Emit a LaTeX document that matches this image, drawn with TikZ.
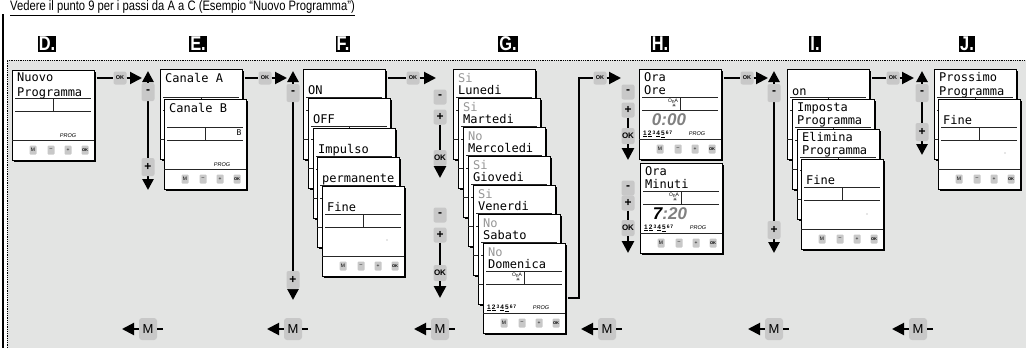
\documentclass[tikz,border=0pt]{standalone}
\usepackage{fontspec}
\usepackage{graphicx}
\setmainfont{Liberation Sans}
\newfontfamily\lcdfont{DejaVu Sans Mono}
\newfontfamily\symbolschrift{DejaVu Sans}
\usetikzlibrary{arrows.meta,shadows,calc}
\definecolor{grund}{RGB}{227,228,227}
\definecolor{tastgrau}{RGB}{200,200,200}
\definecolor{lcdgrau}{RGB}{150,150,150}

\newcommand\schmal[1]{\scalebox{0.82}[1]{#1}}
\newcommand\zeile[3]{\node[lcd] (#1) at (5,#2) {#3};}
\newcommand\hinten[3]{%
  \node[anzeige] (#1) at (#2) {};
  \begin{scope}[shift={(#1.north west)}]
    \draw[lcdlinie] (3,28) -- (79,28) (3,41) -- (79,41) (41,28) -- (41,41);
    \draw[lcdlinie] (0,70) -- (82,70);
    #3
  \end{scope}}
\newcommand\anzeige[3]{%
  \hinten{#1}{#2}{%
    \node[mini] (#1-m) at (21,80) {M};
    \node[mini] (#1-minus) at (39,80) {–};
    \node[mini] (#1-plus) at (56,80) {+};
    \node[mini,font=\bfseries\fontsize{4}{4}\selectfont] (#1-ok) at (73,80) {OK};
    #3}}
\newcommand\wochentage{\underline{1}\,\underline{2}\,\raisebox{1pt}{\fontsize{5}{5}\selectfont 3}\,\underline{4}\,\underline{5}\,\raisebox{1pt}{\fontsize{5}{5}\selectfont 6\,7}}
\newcommand\uhrsymbol[1]{%
  \node[ona] (#1-ona) at (34,32) {O\raisebox{-0.6pt}{n}A};
  \node[sonne] (#1-sonne) at (35,37) {☀};
  \node[wtage] (#1-wt) at (4,65) {\wochentage};
  \node[prog] (#1-prog) at (58,65) {PROG};}
\newcommand\hintertag[4]{\hinten{#1}{#2}{\zeile{#1-1}{13}{\textcolor{lcdgrau}{#3}}\zeile{#1-2}{25}{#4}}}

\begin{document}
\begin{tikzpicture}[x=1pt,y=-1pt]
\tikzset{anzeige/.style={rectangle,draw,fill=white,line width=0.8pt,minimum width=82pt,minimum height=90pt,inner sep=0pt,anchor=north west,drop shadow={shadow xshift=1.6pt,shadow yshift=-1.6pt,fill=black,opacity=1}}}
\tikzset{lcd/.style={anchor=base west,inner sep=0pt,font=\lcdfont\fontsize{12}{12}\selectfont}}
\tikzset{lcdlinie/.style={line width=0.8pt,black!85}}
\tikzset{mini/.style={fill=tastgrau,rounded corners=1pt,minimum width=7pt,minimum height=9pt,inner sep=0pt,font=\fontsize{5}{5}\selectfont}}
\tikzset{prog/.style={inner sep=0pt,font=\itshape\fontsize{5.5}{5.5}\selectfont}}
\tikzset{ona/.style={inner sep=0pt,font=\fontsize{5}{5}\selectfont}}
\tikzset{sonne/.style={inner sep=0pt,font=\symbolschrift\fontsize{5}{5}\selectfont}}
\tikzset{wtage/.style={anchor=west,inner sep=0pt,font=\bfseries\fontsize{6.5}{6.5}\selectfont}}
\tikzset{ziffern/.style={inner sep=0pt,text=black!50,font=\bfseries\itshape\fontsize{17}{17}\selectfont}}
\tikzset{taste/.style={fill=tastgrau,rounded corners=2pt,minimum width=13pt,minimum height=18pt,inner sep=0pt,font=\bfseries\fontsize{12}{12}\selectfont}}
\tikzset{oktaste/.style={taste,minimum height=13pt,font=\bfseries\fontsize{5.5}{5.5}\selectfont}}
\tikzset{okgross/.style={taste,minimum height=16pt,font=\bfseries\fontsize{8}{8}\selectfont}}
\tikzset{mtaste/.style={fill=tastgrau,rounded corners=3pt,minimum width=18pt,minimum height=22pt,inner sep=0pt,font=\fontsize{13}{13}\selectfont}}
\tikzset{buchstabe/.style={fill=black,text=white,inner sep=1pt,font=\bfseries\fontsize{20}{20}\selectfont}}
\tikzset{verbindung/.style={line width=2pt}}
\tikzset{pfeil/.style={line width=2pt,-{Triangle[length=12pt,width=12pt]}}}
\tikzset{spalte/.style={line width=2.6pt,{Triangle[length=11pt,width=11pt]}-{Triangle[length=11pt,width=11pt]}}}
\useasboundingbox (0,0) rectangle (1026,348);
\fill[grund] (7,60) rectangle (1026,348);
\draw[densely dotted,line width=0.8pt] (7,348) -- (7,60) -- (1026,60);
\draw[line width=1.6pt] (3,14) -- (3,348);
\node[anchor=west,inner sep=0pt,font=\fontsize{13.7}{14}\selectfont] (titel) at (10,8) {\schmal{\underline{Vedere il punto 9 per i passi da A a C (Esempio “Nuovo Programma”)}}};

\node [buchstabe] (bD) at (47,44) {\schmal{D.}};
\node [buchstabe] (bE) at (198,44) {\schmal{E.}};
\node [buchstabe] (bF) at (343,44) {\schmal{F.}};
\node [buchstabe] (bG) at (508,44) {\schmal{G.}};
\node [buchstabe] (bH) at (660,44) {\schmal{H.}};
\node [buchstabe] (bI) at (815,44) {\schmal{I.}};
\node [buchstabe] (bJ) at (967,44) {\schmal{J.}};

\anzeige{anzD}{12,70}{\zeile{anzD-1}{11}{Nuovo}\zeile{anzD-2}{26}{Programma}\node[prog] (anzD-prog) at (56,66) {PROG};}

\hinten{anzE1}{160,69}{\zeile{anzE1-1}{13}{Canale A}}
\anzeige{anzE2}{164,99}{\zeile{anzE2-1}{13}{Canale B}\node[inner sep=0pt,font=\lcdfont\fontsize{8}{8}\selectfont] (anzE2-b) at (75,34) {B};\node[prog] (anzE2-prog) at (58,66) {PROG};}

\hinten{anzF1}{303,69}{\zeile{anzF1-1}{25}{ON}}
\hinten{anzF2}{308,98}{\zeile{anzF2-1}{25}{OFF}}
\hinten{anzF3}{313,128}{\zeile{anzF3-1}{25}{Impulso}}
\hinten{anzF4}{317,157}{\zeile{anzF4-1}{25}{permanente}}
\anzeige{anzF5}{322,186}{\zeile{anzF5-1}{25}{Fine}\fill[lcdgrau] (65,54) circle (0.6);}

\hintertag{anzG1}{453,69}{Si}{Lunedi}
\hintertag{anzG2}{458,98}{Si}{Martedi}
\hintertag{anzG3}{463,127}{No}{Mercoledi}
\hintertag{anzG4}{468,156}{Si}{Giovedi}
\hintertag{anzG5}{473,185}{Si}{Venerdi}
\hintertag{anzG6}{478,214}{No}{Sabato}
\anzeige{anzG7}{483,243}{\zeile{anzG7-1}{13}{\textcolor{lcdgrau}{No}}\zeile{anzG7-2}{25}{Domenica}\uhrsymbol{anzG7}}

\anzeige{anzH1}{639,69}{\zeile{anzH1-1}{12}{Ora}\zeile{anzH1-2}{25}{Ore}\uhrsymbol{anzH1}\node[ziffern] (anzH1-z) at (30,51) {0:00};}
\anzeige{anzH2}{640,163}{\zeile{anzH2-1}{12}{Ora}\zeile{anzH2-2}{25}{Minuti}\uhrsymbol{anzH2}\node[ziffern] (anzH2-z) at (30,51) {\textcolor{black}{7}:20};}

\hinten{anzI1}{787,69}{\zeile{anzI1-1}{26}{on}}
\hinten{anzI2}{792,99}{\zeile{anzI2-1}{12}{Imposta}\zeile{anzI2-2}{25}{Programma}}
\hinten{anzI3}{797,129}{\zeile{anzI3-1}{12}{Elimina}\zeile{anzI3-2}{25}{Programma}}
\anzeige{anzI4}{801,159}{\zeile{anzI4-1}{25}{Fine}\fill[lcdgrau] (66,55) circle (0.6);}

\hinten{anzJ1}{934,69}{\zeile{anzJ1-1}{12}{Prossimo}\zeile{anzJ1-2}{26}{Programma}}
\anzeige{anzJ2}{938,99}{\zeile{anzJ2-1}{25}{Fine}\fill[lcdgrau] (67,54) circle (0.6);}

\node [oktaste] (okD) at (120,78) {OK};
\coordinate (spitzeD) at (142,78);
\draw[verbindung] ($(anzD.north east)+(2,8)$) -- (okD);
\draw[pfeil] (okD) -- (spitzeD);
\node [oktaste] (okE) at (265,78) {OK};
\coordinate (spitzeE) at (287,78);
\draw[verbindung] ($(anzE1.north east)+(2,9)$) -- (okE);
\draw[pfeil] (okE) -- (spitzeE);
\node [oktaste] (okF) at (413,78) {OK};
\coordinate (spitzeF) at (436,78);
\draw[verbindung] ($(anzF1.north east)+(2,9)$) -- (okF);
\draw[pfeil] (okF) -- (spitzeF);
\node [oktaste] (okG) at (600,78) {OK};
\coordinate (spitzeG) at (621,78);
\coordinate (knickG) at (579,78);
\draw[verbindung] ($(anzG7.north east)+(2,55)$) -| (knickG) -- (okG);
\draw[pfeil] (okG) -- (spitzeG);
\node [oktaste] (okH) at (747,78) {OK};
\coordinate (spitzeH) at (768,78);
\draw[verbindung] ($(anzH1.north east)+(2,9)$) -- (okH);
\draw[pfeil] (okH) -- (spitzeH);
\node [oktaste] (okI) at (893,78) {OK};
\coordinate (spitzeI) at (914,78);
\draw[verbindung] ($(anzI1.north east)+(2,9)$) -- (okI);
\draw[pfeil] (okI) -- (spitzeI);

\coordinate (obenE) at (148,71);
\coordinate (untenE) at (148,190);
\draw[spalte] (obenE) -- (untenE);
\node [taste] (minusE) at (148,92) {-};
\node [taste] (plusE) at (148,167) {+};
\coordinate (obenF) at (293,71);
\coordinate (untenF) at (293,300);
\draw[spalte] (obenF) -- (untenF);
\node [taste] (minusF) at (293,93) {-};
\node [taste] (plusF) at (293,280) {+};
\coordinate (obenI) at (774,71);
\coordinate (untenI) at (774,253);
\draw[spalte] (obenI) -- (untenI);
\node [taste] (minusI) at (774,93) {-};
\node [taste] (plusI) at (774,230) {+};
\coordinate (obenJ) at (922,71);
\coordinate (untenJ) at (922,155);
\draw[spalte] (obenJ) -- (untenJ);
\node [taste] (minusJ) at (922,93) {-};
\node [taste] (plusJ) at (922,132) {+};

\node [taste,minimum height=15pt] (minusG1) at (440,97) {-};
\node [taste,minimum height=15pt] (plusG1) at (440,117) {+};
\node [okgross] (okG1) at (440,158) {OK};
\coordinate (spitzeG1) at (440,178);
\draw[verbindung,line width=2.6pt] (plusG1) -- (okG1);
\draw[pfeil,line width=2.6pt] (okG1) -- (spitzeG1);
\node [taste,minimum height=15pt] (minusG2) at (440,215) {-};
\node [taste,minimum height=15pt] (plusG2) at (440,235) {+};
\node [okgross] (okG2) at (440,273) {OK};
\coordinate (spitzeG2) at (440,298);
\draw[verbindung,line width=2.6pt] (plusG2) -- (okG2);
\draw[pfeil,line width=2.6pt] (okG2) -- (spitzeG2);

\node [taste,minimum height=15pt] (minusH1) at (628,92) {-};
\node [taste,minimum height=15pt] (plusH1) at (628,110) {+};
\node [okgross] (okH1) at (628,136) {OK};
\coordinate (spitzeH1) at (628,160);
\draw[verbindung,line width=2.6pt] (plusH1) -- (okH1);
\draw[pfeil,line width=2.6pt] (okH1) -- (spitzeH1);
\node [taste,minimum height=15pt] (minusH2) at (628,188) {-};
\node [taste,minimum height=15pt] (plusH2) at (628,203) {+};
\node [okgross] (okH2) at (628,228) {OK};
\coordinate (spitzeH2) at (628,253);
\draw[verbindung,line width=2.6pt] (plusH2) -- (okH2);
\draw[pfeil,line width=2.6pt] (okH2) -- (spitzeH2);

\node [mtaste] (mE) at (148,329) {M};
\draw[pfeil] (mE) -- ++(-26,0);
\draw[verbindung] (mE) -- ++(15,0);
\node [mtaste] (mF) at (293,329) {M};
\draw[pfeil] (mF) -- ++(-26,0);
\draw[verbindung] (mF) -- ++(15,0);
\node [mtaste] (mG) at (440,329) {M};
\draw[pfeil] (mG) -- ++(-26,0);
\draw[verbindung] (mG) -- ++(15,0);
\node [mtaste] (mH) at (607,329) {M};
\draw[pfeil] (mH) -- ++(-26,0);
\draw[verbindung] (mH) -- ++(15,0);
\node [mtaste] (mI) at (774,329) {M};
\draw[pfeil] (mI) -- ++(-26,0);
\draw[verbindung] (mI) -- ++(15,0);
\node [mtaste] (mJ) at (918,329) {M};
\draw[pfeil] (mJ) -- ++(-26,0);
\draw[verbindung] (mJ) -- ++(15,0);
\end{tikzpicture}
\end{document}
